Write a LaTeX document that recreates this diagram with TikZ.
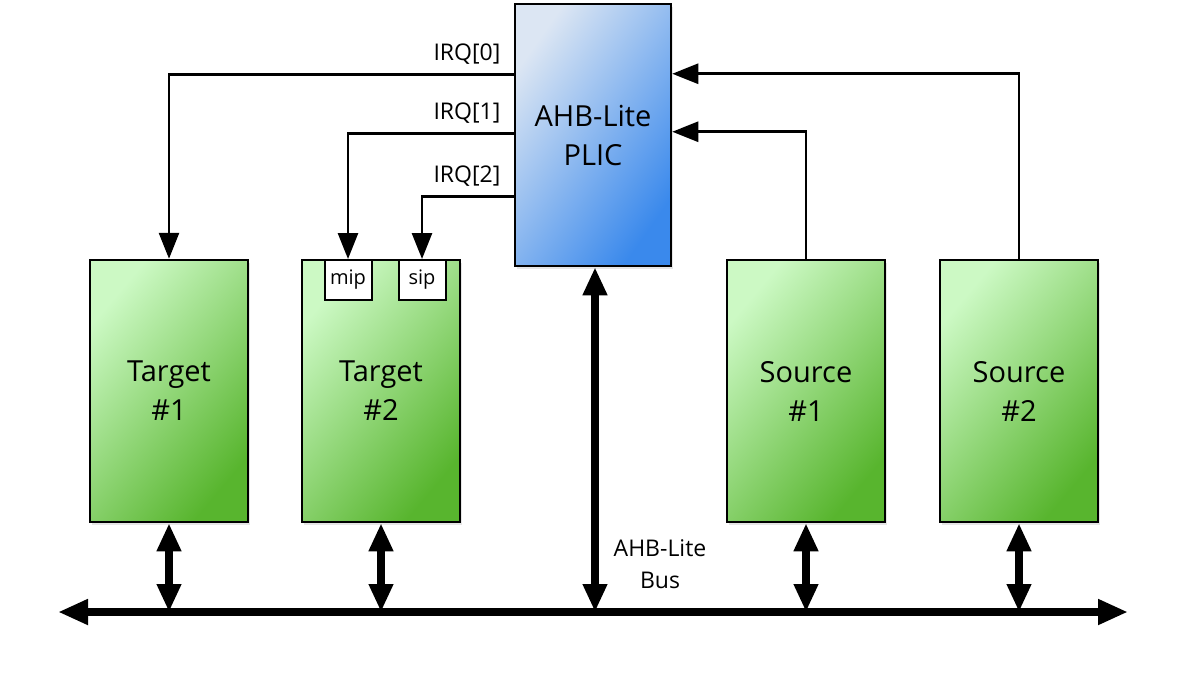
\documentclass[tikz,border=0pt]{standalone}
\usepackage{fontspec}
\setmainfont{Open Sans}
\usepackage{tikz}
\usetikzlibrary{arrows.meta,positioning,calc,shadows}
\definecolor{tgLight}{HTML}{CCF9C4}
\definecolor{tgDark}{HTML}{58B52E}
\definecolor{plLight}{HTML}{DCE6F3}
\definecolor{plDark}{HTML}{3A89EC}

\begin{document}
\begin{tikzpicture}[x=1pt, y=-1pt,
    unit/.style={draw, line width=2.5pt, minimum width=158pt, minimum height=262pt,
        align=center, font=\fontsize{29}{39}\selectfont,
        top color=tgLight, bottom color=tgDark, shading angle=50,
        drop shadow={shadow xshift=2pt, shadow yshift=-3pt, opacity=0.2}},
    plicbox/.style={unit, minimum width=156pt, top color=plLight, bottom color=plDark, shading angle=55},
    reg/.style={draw, line width=2pt, fill=white, minimum width=47pt, minimum height=40pt,
        inner sep=0pt, font=\fontsize{20}{22}\selectfont},
    lbl/.style={font=\fontsize{23}{28}\selectfont, anchor=south east, inner sep=0pt},
    sig/.style={line width=2.8pt, -{Triangle[length=26pt, width=20pt]}},
    link/.style={line width=8pt, {Triangle[length=28pt, width=23pt]}-{Triangle[length=28pt, width=23pt]}},
    bus/.style={line width=8pt, {Triangle[length=30pt, width=24pt]}-{Triangle[length=30pt, width=24pt]}},
]
    \useasboundingbox (0,0) rectangle (1183,686);
    % blocks
    \node[plicbox] (plic) at (593,135) {AHB-Lite\\PLIC};
    \node[unit] (tgtA) at (169,391) {Target\\\#1};
    \node[unit] (tgtB) at (381,391) {Target\\\#2};
    \node[unit] (srcA) at (806,391) {Source\\\#1};
    \node[unit] (srcB) at (1019,391) {Source\\\#2};
    \node[reg] (mip) at (348,280) {mip};
    \node[reg] (sip) at (422,280) {sip};
    % interrupt lines
    \draw[sig] ([yshift=-72pt]plic.north west) node[lbl, xshift=-12pt, yshift=9pt] {IRQ[0]} -| (tgtA.north);
    \draw[sig] ([yshift=-131pt]plic.north west) node[lbl, xshift=-12pt, yshift=9pt] {IRQ[1]} -| (mip.north);
    \draw[sig] ([yshift=-194pt]plic.north west) node[lbl, xshift=-12pt, yshift=9pt] {IRQ[2]} -| (sip.north);
    \draw[sig] (srcA.north) |- ([yshift=-129pt]plic.north east);
    \draw[sig] (srcB.north) |- ([yshift=-71pt]plic.north east);
    % bus
    \coordinate (busW) at (58,612);
    \coordinate (busE) at (1128,612);
    \draw[bus] (busW) -- (busE);
    \draw[link] (tgtA.south) -- (tgtA.south |- busW);
    \draw[link] (tgtB.south) -- (tgtB.south |- busW);
    \draw[link] (srcA.south) -- (srcA.south |- busW);
    \draw[link] (srcB.south) -- (srcB.south |- busW);
    \draw[link] ([xshift=2pt]plic.south) -- ([xshift=2pt]plic.south |- busW);
    \node[font=\fontsize{23}{32}\selectfont, align=center] (buslbl) at (660,564) {AHB-Lite\\Bus};
\end{tikzpicture}
\end{document}
